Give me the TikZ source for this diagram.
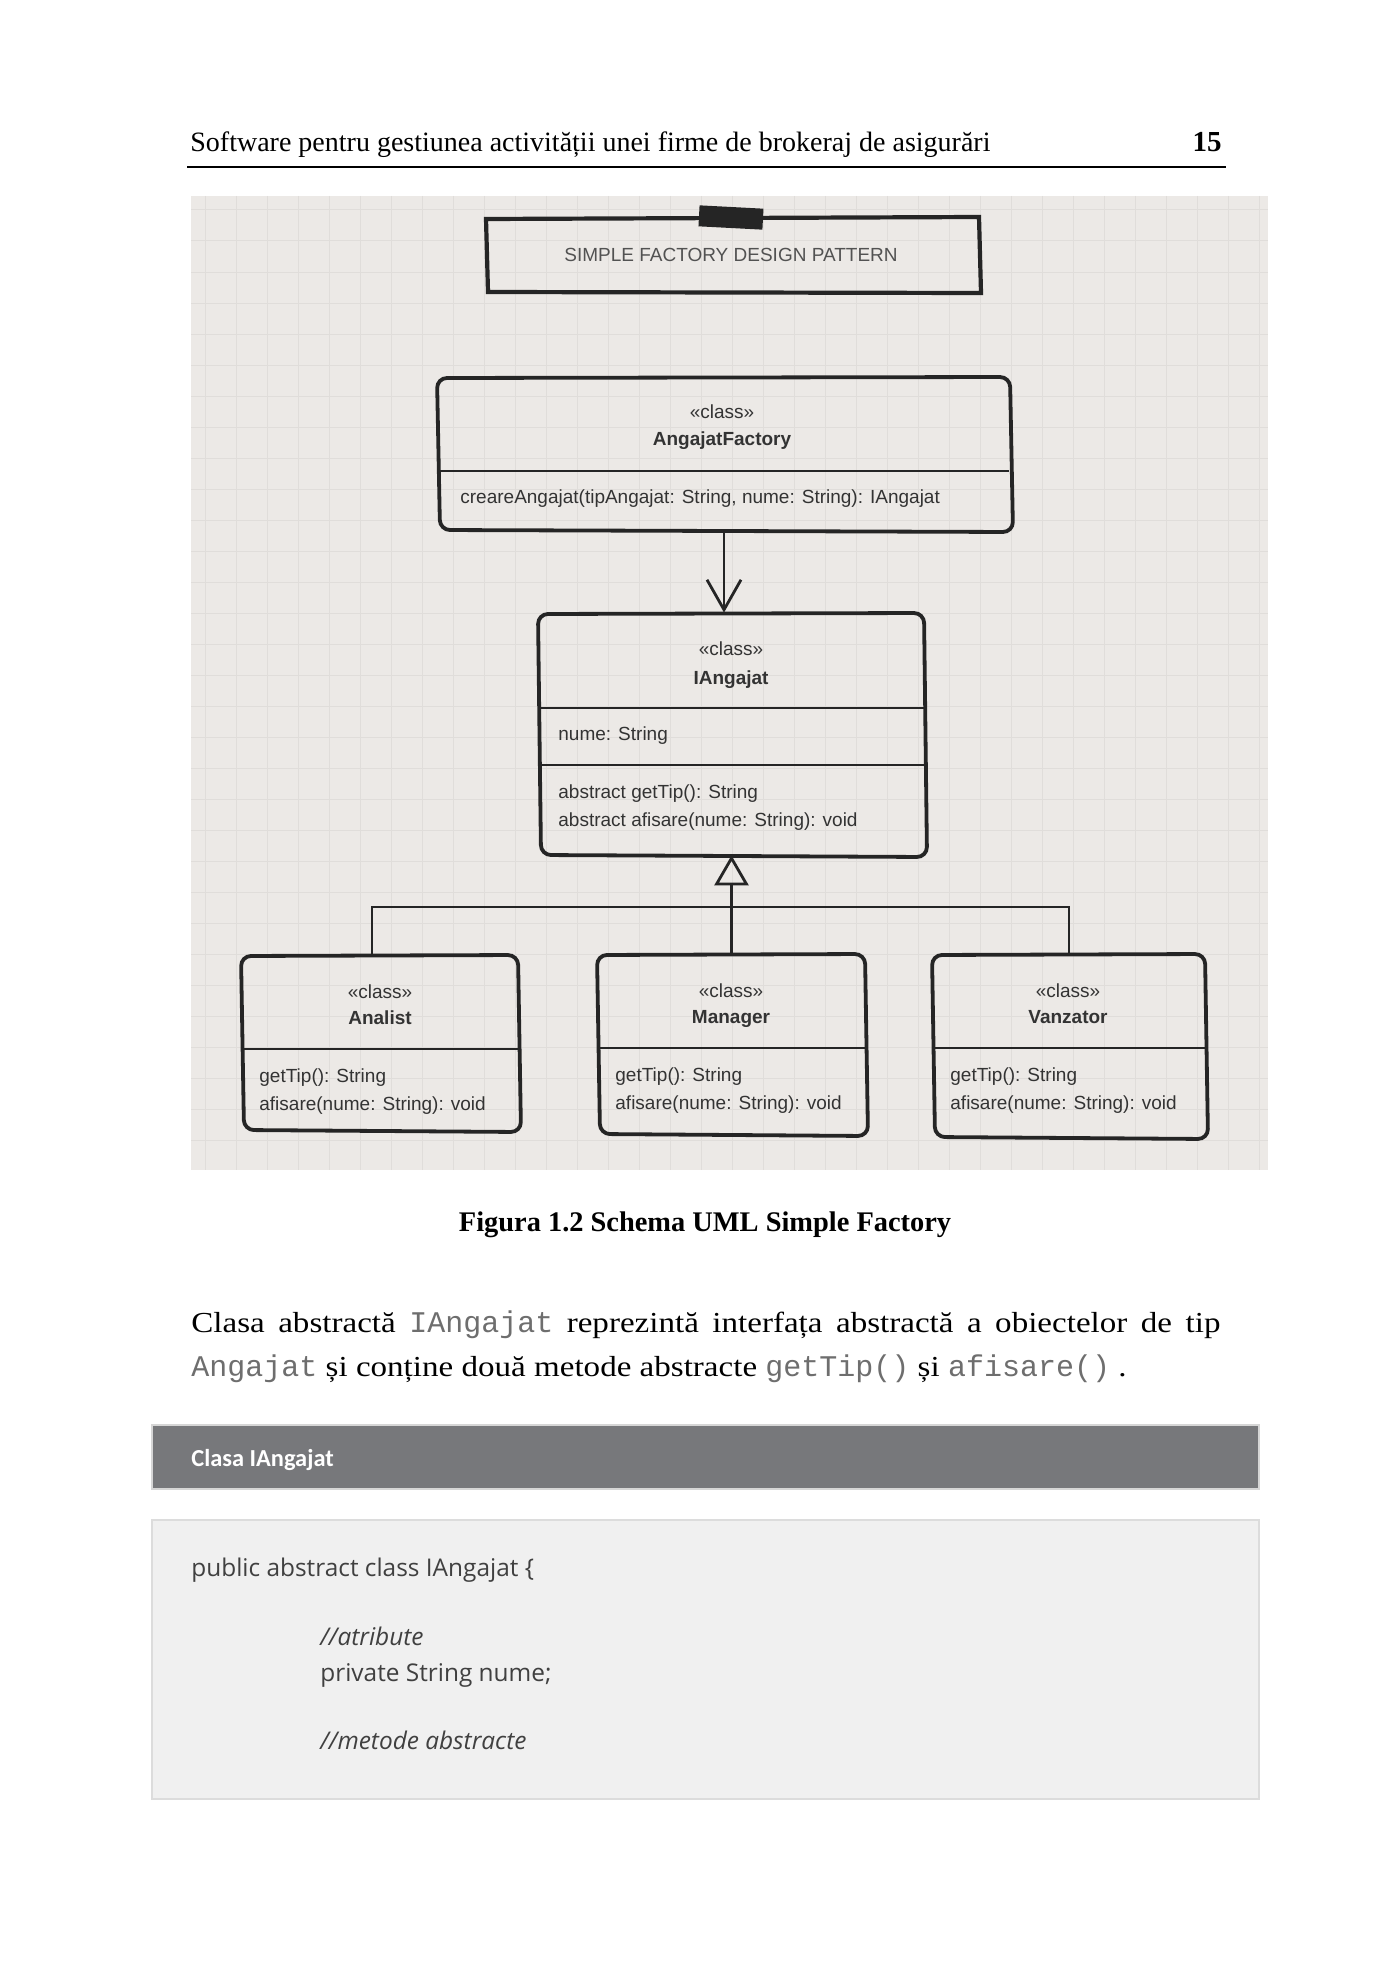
\documentclass[tikz,border=0pt]{standalone}
\usepackage{fontspec}
\setmainfont{Liberation Serif}
\newfontfamily\parserif[FakeStretch=1.14]{Liberation Serif}
\newfontfamily\arialf{Liberation Sans}
\newfontfamily\courf{Liberation Mono}
\newfontfamily\calibf{Carlito}
\newfontfamily\opensf{Open Sans}
\usetikzlibrary{arrows.meta,fit}
\definecolor{figbg}{HTML}{ECE9E6}
\definecolor{gridc}{HTML}{E0DDDA}
\definecolor{boxc}{HTML}{252525}
\definecolor{umltext}{HTML}{333333}
\definecolor{monoc}{HTML}{6E6E6E}
\definecolor{barc}{HTML}{77787B}
\definecolor{barborder}{HTML}{D6D6D6}
\definecolor{codebg}{HTML}{F0F0F0}
\definecolor{codeborder}{HTML}{DCDCDC}
\definecolor{codetext}{HTML}{404040}
\tikzset{
  umlbox/.style={draw=boxc, line width=1.9pt, rounded corners=5pt},
  holder/.style={inner sep=0pt},
  umlline/.style={draw=boxc, line width=1.4pt},
  conn/.style={draw=boxc, line width=1.4pt},
  umlfont/.style={font=\arialf\fontsize{9.5}{11}\selectfont, text=umltext, inner sep=0pt},
  stereo/.style={umlfont, anchor=base},
  cname/.style={font=\arialf\bfseries\fontsize{9.5}{11}\selectfont, text=umltext, inner sep=0pt, anchor=base},
  member/.style={umlfont, anchor=base west},
  codeline/.style={font=\opensf\fontsize{12.2}{14}\selectfont, text=codetext, inner sep=0pt, anchor=base west},
  codecomment/.style={codeline, font=\opensf\itshape\fontsize{12.2}{14}\selectfont},
  partext/.style={anchor=base west, inner sep=0pt, font=\parserif\fontsize{14.5}{17}\selectfont},
}
\newcommand{\mono}[1]{{\courf\fontsize{15}{17}\selectfont\color{monoc}#1}}
\newcommand{\skbox}[4]{\draw[umlbox] (#1,#2+1) -- (#3-1,#2) -- (#3+2,#4+2) -- (#1+3,#4) -- cycle;}
\begin{document}
\begin{tikzpicture}[x=0.5pt,y=-0.5pt]
\useasboundingbox (0,0) rectangle (1386,1969);
\fill[white] (0,0) rectangle (1386,1969);

% page header
\node[anchor=base west, inner sep=0pt, font=\fontsize{14}{16}\selectfont] (hdr) at (190,152)
  {Software pentru gestiunea activității unei firme de brokeraj de asigurări};
\node[anchor=base east, inner sep=0pt, font=\bfseries\fontsize{14.5}{16}\selectfont] (pg) at (1222,152) {15};
\draw[line width=0.9pt] (187,167) -- (1226,167);

% figure background with grid
\fill[figbg] (191,196) rectangle (1268,1170);
\begin{scope}
\clip (191,196) rectangle (1268,1170);
\foreach \gx in {205,236,...,1268} \draw[gridc, line width=0.5pt] (\gx,196) -- (\gx,1170);
\foreach \gy in {210,241,...,1170} \draw[gridc, line width=0.5pt] (191,\gy) -- (1268,\gy);
\end{scope}

% title box
\node[holder, fit={(486,219) (980,292)}] (title) {};
\draw[draw=boxc, line width=2.1pt] (486,219) -- (979,217) -- (981,293) -- (488,292) -- cycle;
\fill[boxc, rotate around={-3:(731,217)}] (699,207) rectangle (763,228);
\node[umlfont, text=umltext!85] (titletxt) at (731,255) {SIMPLE FACTORY DESIGN PATTERN};

% AngajatFactory
\node[holder, fit={(437,377) (1011,530)}] (fac) {};
\skbox{437}{377}{1011}{530}
\draw[umlline] (439,471) -- (1009,471);
\node[stereo] (facst) at (722,418) {«class»};
\node[cname] (facnm) at (722,445) {AngajatFactory};
\node[member] (facm1) at (460,503) {creareAngajat(tipAngajat: String, nume: String): IAngajat};

% IAngajat
\node[holder, fit={(538,613) (925,855)}] (ia) {};
\skbox{538}{613}{925}{855}
\draw[umlline] (539,708) -- (924,708);
\draw[umlline] (540,765) -- (925,765);
\node[stereo] (iast) at (731,655) {«class»};
\node[cname] (ianm) at (731,684) {IAngajat};
\node[member] (iaa1) at (558,740) {nume: String};
\node[member] (iam1) at (558,798) {abstract getTip(): String};
\node[member] (iam2) at (558,826) {abstract afisare(nume: String): void};

% Analist
\node[holder, fit={(241,955) (519,1130)}] (ana) {};
\skbox{241}{955}{519}{1130}
\draw[umlline] (242,1049) -- (518,1049);
\node[stereo] (anast) at (380,998) {«class»};
\node[cname] (ananm) at (380,1024) {Analist};
\node[member] (anam1) at (259,1082) {getTip(): String};
\node[member] (anam2) at (259,1110) {afisare(nume: String): void};

% Manager
\node[holder, fit={(597,954) (866,1134)}] (mgr) {};
\skbox{597}{954}{866}{1134}
\draw[umlline] (598,1048) -- (865,1048);
\node[stereo] (mgrst) at (731,997) {«class»};
\node[cname] (mgrnm) at (731,1023) {Manager};
\node[member] (mgrm1) at (615,1081) {getTip(): String};
\node[member] (mgrm2) at (615,1109) {afisare(nume: String): void};

% Vanzator
\node[holder, fit={(932,954) (1206,1137)}] (vz) {};
\skbox{932}{954}{1206}{1137}
\draw[umlline] (933,1048) -- (1205,1048);
\node[stereo] (vzst) at (1068,997) {«class»};
\node[cname] (vznm) at (1068,1023) {Vanzator};
\node[member] (vzm1) at (950,1081) {getTip(): String};
\node[member] (vzm2) at (950,1109) {afisare(nume: String): void};

% connectors
\draw[conn, -{Straight Barb[length=15pt, width=17pt, line width=1.4pt]}] (fac.south) -- (fac.south |- ia.north);
\coordinate (bus) at (731.5,907);
\coordinate (anadrop) at ([xshift=-4pt]ana.north);
\draw[conn, {Triangle[open, length=15pt, width=17pt, line width=1.4pt]}-] (ia.south) -- (mgr.north);
\draw[conn] (anadrop) |- (bus) -| (vz.north);

% caption
\node[anchor=base, inner sep=0pt, font=\bfseries\fontsize{14.2}{16}\selectfont] (cap) at (705,1231)
  {Figura 1.2 Schema UML Simple Factory};

% paragraph
\node[partext] (par1) at (191,1332)
  {\makebox[514.5pt][s]{Clasa abstractă \mono{IAngajat} reprezintă interfața abstractă a obiectelor de tip}};
\node[partext] (par2) at (191,1376)
  {\mono{Angajat} și conține două metode abstracte \mono{getTip()} și \mono{afisare()} .};

% code header bar
\node[fill=barc, draw=barborder, line width=1.2pt, inner sep=0pt, fit={(152,1425) (1259,1489)}] (bar) {};
\node[anchor=base west, inner sep=0pt, text=white, font=\calibf\bfseries\fontsize{12.2}{14}\selectfont] (bartxt) at (191,1466) {Clasa IAngajat};

% code box
\node[fill=codebg, draw=codeborder, line width=1.2pt, inner sep=0pt, fit={(152,1520) (1259,1799)}] (code) {};
\node[codeline] (c1) at (191,1576) {public abstract class IAngajat \{};
\node[codecomment] (c2) at (320,1645) {//atribute};
\node[codeline] (c3) at (320,1681) {private String nume;};
\node[codecomment] (c4) at (320,1749) {//metode abstracte};
\end{tikzpicture}
\end{document}
